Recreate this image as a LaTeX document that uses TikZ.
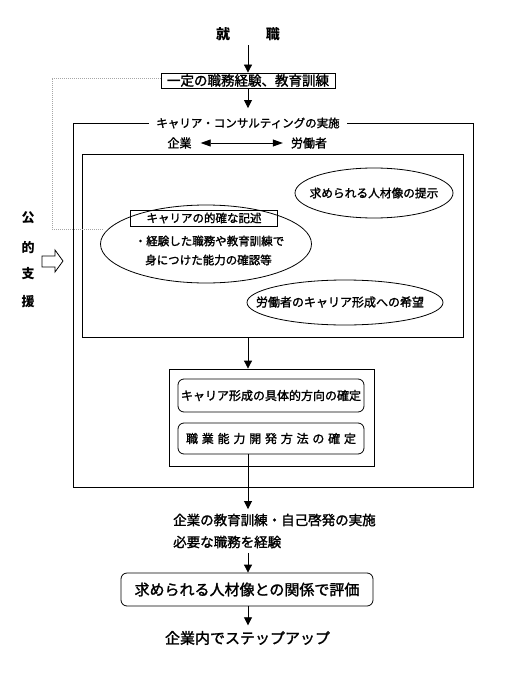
\documentclass[tikz,border=0pt]{standalone}
\usepackage{fontspec}
\setmainfont{Noto Sans CJK JP}
\newfontfamily\medf{Noto Sans CJK JP}[FakeBold=1.6]
\usetikzlibrary{arrows.meta,shapes.geometric}
\begin{document}
\begin{tikzpicture}[x=1bp,y=-1bp,
  lw/.style={line width=0.8bp},
  arr/.style={lw,-{Triangle[width=8bp,length=8bp]}},
  dblarr/.style={lw,{Triangle[width=7bp,length=10bp]}-{Triangle[width=7bp,length=10bp]}},
  fs/.style={font=\fontsize{#1bp}{#1bp}\selectfont\medf, inner sep=0pt, text height={0.88*#1bp}, text depth={0.12*#1bp}},
  bs/.style={font=\fontsize{#1bp}{#1bp}\selectfont\bfseries, inner sep=0pt, text height={0.88*#1bp}, text depth={0.12*#1bp}},
  sqbox/.style={draw,lw,inner sep=0pt},
  rbox/.style={draw,lw,rounded corners=6bp,inner sep=0pt},
  oval/.style={draw,lw,ellipse,inner sep=0pt},
  dotline/.style={lw,gray!70,dash pattern=on 1bp off 1bp}
]
\fill[white] (0,0) rectangle (505,675);
\useasboundingbox (0,0) rectangle (505,675);

% top
\node[bs=14] (shu) at (248,34) {就\hspace{36bp}職};
\node[sqbox, fs=13.5, minimum width=174bp, minimum height=15bp] (b1) at (248,80.5) {一定の職務経験、教育訓練};

% outer box
\node[sqbox, minimum width=400bp, minimum height=364bp] (outer) at (273,305) {};
\node[fs=11.5, fill=white, inner xsep=7bp, inner ysep=9bp] (title) at (248,123) {キャリア・コンサルティングの実施};

\node[fs=12] (kig) at (179.5,143) {企業};
\node[fs=12] (rou) at (309,143) {労働者};
\draw[dblarr, shorten <=9bp, shorten >=8bp] (kig) -- (rou);

% inner box
\node[sqbox, minimum width=381bp, minimum height=183bp] (inner) at (272.5,245.5) {};

\node[oval, minimum width=211bp, minimum height=78bp] (e1) at (206,244) {};
\node[sqbox, fs=11.5, minimum width=147bp, minimum height=16bp] (kijutsu) at (204,218) {キャリアの的確な記述};
\node[fs=11.5] (l1) at (209.5,241) {・経験した職務や教育訓練で};
\node[fs=11.5] (l2) at (208.5,260) {身につけた能力の確認等};

\node[oval, minimum width=158bp, minimum height=50bp] (e2) at (374,193) {};
\node[fs=11.7] (t2) at (374,193) {求められる人材像の提示};
\node[oval, minimum width=196bp, minimum height=45bp] (e3) at (345,302.5) {};
\node[fs=12] (t3) at (340,302) {労働者のキャリア形成への希望};

% public support
\node[bs=13] (k1) at (28,218) {公};
\node[bs=13] (k2) at (28,248) {的};
\node[bs=13] (k3) at (28,274) {支};
\node[bs=13] (k4) at (28,302) {援};
\draw[lw] (42,256) -- (55,256) -- (55,250) -- (63,261) -- (55,272) -- (55,267) -- (42,267) -- cycle;

% dotted link
\coordinate (dEnd) at (103,229);
\draw[dotline] ([yshift=2.5bp]b1.west) -| (52,229) -- (dEnd);

% box 2
\node[sqbox, minimum width=205bp, minimum height=97bp] (b2) at (271.5,417.5) {};
\node[rbox, fs=12, minimum width=186bp, minimum height=33bp] (ra) at (271,395.5) {キャリア形成の具体的方向の確定};
\node[rbox, fs=12, minimum width=186bp, minimum height=31bp] (rb) at (271,438.5) {職\hspace{3.8bp}業\hspace{3.8bp}能\hspace{3.8bp}力\hspace{3.8bp}開\hspace{3.8bp}発\hspace{3.8bp}方\hspace{3.8bp}法\hspace{3.8bp}の\hspace{3.8bp}確\hspace{3.8bp}定};

% bottom
\node[fs=13.5, inner ysep=4bp, anchor=west] (j1) at (173,520) {企業の教育訓練・自己啓発の実施};
\node[fs=13.5, inner ysep=4bp, anchor=west] (j2) at (173,542) {必要な職務を経験};
\node[rbox, fs=15, minimum width=252bp, minimum height=33bp] (hy) at (247,589.5) {求められる人材像との関係で評価};
\node[fs=15, inner ysep=5bp] (st) at (247.5,638) {企業内でステップアップ};

% arrows
\draw[arr, shorten <=4bp] (shu) -- (b1);
\draw[arr] (b1) -- (title);
\draw[arr] (inner.south -| shu) -- (b2.north -| shu);
\draw[arr] (rb.south -| shu) -- (j1.north -| shu);
\draw[arr] (j2.south -| shu) -- (hy.north -| shu);
\draw[arr] (hy.south -| shu) -- (st.north -| shu);
\end{tikzpicture}
\end{document}
